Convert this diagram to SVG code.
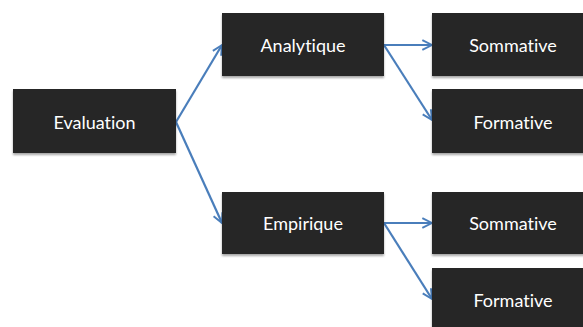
<svg xmlns="http://www.w3.org/2000/svg" width="583" height="327" viewBox="0 0 583 327">
<style>
.box{fill:#262626;filter:url(#sh)}
.lbl{fill:#ffffff;font-family:Lato,"Open Sans",sans-serif;font-size:18px;text-anchor:middle;font-variant-ligatures:none}
.con{stroke:#4a7ebb;stroke-width:2.2;fill:none;marker-end:url(#ah)}
</style>
<defs>
<filter id="sh" x="-10%" y="-10%" width="130%" height="140%">
<feDropShadow dx="0" dy="2" stdDeviation="1.2" flood-color="#000" flood-opacity="0.35"/>
</filter>
<marker id="ah" viewBox="0 0 10 10" refX="9" refY="5" markerWidth="5.5" markerHeight="5.5" orient="auto" markerUnits="strokeWidth">
<path d="M1,1 L9,5 L1,9" fill="none" stroke="#4a7ebb" stroke-width="1.6"/>
</marker>
</defs>
<rect width="583" height="327" fill="#ffffff"/>
<g id="connectors">
<line class="con" x1="176" y1="122" x2="222" y2="45"/>
<line class="con" x1="176" y1="122" x2="222" y2="223"/>
<line class="con" x1="384" y1="45" x2="432" y2="45"/>
<line class="con" x1="384" y1="45" x2="432" y2="120"/>
<line class="con" x1="384" y1="223" x2="432" y2="223"/>
<line class="con" x1="384" y1="223" x2="432" y2="299"/>
</g>
<g id="evaluation">
<rect class="box" x="13" y="89" width="163" height="64"/>
<text class="lbl" x="94.5" y="129">Evaluation</text>
</g>
<g id="analytique">
<rect class="box" x="222" y="13" width="162" height="63"/>
<text class="lbl" x="303" y="52">Analytique</text>
</g>
<g id="empirique">
<rect class="box" x="222" y="192" width="162" height="62"/>
<text class="lbl" x="303" y="230">Empirique</text>
</g>
<g id="sommative1">
<rect class="box" x="432" y="13" width="163" height="63"/>
<text class="lbl" x="513" y="52">Sommative</text>
</g>
<g id="formative1">
<rect class="box" x="432" y="89" width="163" height="64"/>
<text class="lbl" x="513" y="129">Formative</text>
</g>
<g id="sommative2">
<rect class="box" x="432" y="192" width="163" height="62"/>
<text class="lbl" x="513" y="230">Sommative</text>
</g>
<g id="formative2">
<rect class="box" x="432" y="268" width="163" height="64"/>
<text class="lbl" x="513" y="307">Formative</text>
</g>
</svg>
